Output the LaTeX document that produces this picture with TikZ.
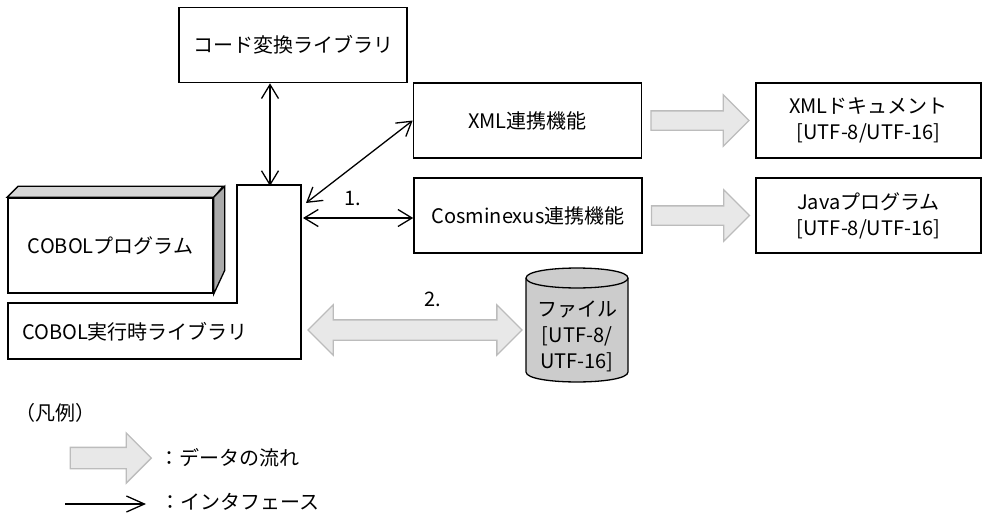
\documentclass[tikz,border=0pt]{standalone}
\usepackage{fontspec}
\setmainfont{Noto Sans CJK JP}
\definecolor{flowfill}{RGB}{232,232,232}
\definecolor{flowline}{RGB}{188,188,188}
\definecolor{cylgray}{RGB}{204,204,204}
\definecolor{topgray}{RGB}{214,214,214}
\definecolor{sidegray}{RGB}{170,170,170}
\usetikzlibrary{arrows.meta,positioning,shapes.arrows}

\begin{document}
\begin{tikzpicture}[x=1pt, y=-1pt,
      box/.style={draw, line width=1.6pt, fill=white,
                  minimum width=228pt, minimum height=75pt,
                  font=\fontsize{20}{26}\selectfont, align=center},
      lbl/.style={font=\fontsize{20}{26}\selectfont, align=center},
      iface/.style={{Straight Barb[length=14pt,width=17pt]}-{Straight Barb[length=14pt,width=17pt]},
                    line width=1.3pt},
      flow/.style={single arrow, draw=flowline, fill=flowfill, line width=1.3pt,
                   inner xsep=0pt, inner ysep=9pt, minimum width=50pt,
                   single arrow head extend=16pt, single arrow head indent=0pt},
      flow2/.style={double arrow, draw=flowline, fill=flowfill, line width=1.3pt,
                    inner xsep=0pt, inner ysep=9.5pt, minimum width=49pt,
                    double arrow head extend=15pt, double arrow head indent=0pt}
  ]
    \useasboundingbox (0,0) rectangle (987,514);

    % upper boxes
    \node[box] (conv) at (293,45) {コード変換ライブラリ};
    \node[box] (xml)  at (527.5,120.5) {XML連携機能};
    \node[box] (cosm) at (528,215.5) {Cosminexus連携機能};
    \node[box, minimum width=225pt] (xmldoc) at (868.5,120.5) {XMLドキュメント\\{}[UTF-8/UTF-16]};
    \node[box, minimum width=225pt] (java)   at (868.5,215.5) {Javaプログラム\\{}[UTF-8/UTF-16]};

    % COBOL program (block)
    \node[box, minimum width=205pt, minimum height=95pt] (prog) at (110.5,245.5) {COBOLプログラム};
    \draw[line width=1.3pt, fill=topgray] (prog.north west) -- ++(11,-11) -- ++(205,0) -- (prog.north east) -- cycle;
    \draw[line width=1.3pt, fill=sidegray] (prog.north east) -- ++(11,-11) -- ++(0,84) -- (prog.south east) -- cycle;

    % runtime library
    \draw[line width=1.6pt] (8,303) -- (237,303) -- (237,185) -- (301,185) -- (301,359) -- (8,359) -- cycle;
    \node[lbl] (rtlib) at (135,332) {COBOL実行時ライブラリ};
    \coordinate (rttop)  at (270,186);
    \coordinate (rtxml)  at (306,203);
    \coordinate (rtcosm) at (303,218);

    % file
    \draw[line width=1.3pt, fill=cylgray] (526,278) -- (526,372)
        .. controls (526,385.3) and (628,385.3) .. (628,372) -- (628,278)
        .. controls (628,264.7) and (526,264.7) .. (526,278) -- cycle;
    \draw[line width=1.3pt] (526,278) .. controls (526,291.3) and (628,291.3) .. (628,278);
    \node[lbl] (file) at (577,336) {ファイル\\{}[UTF-8/\\UTF-16]};

    % interfaces
    \draw[iface] (conv.south -| rttop) -- (rttop);
    \draw[iface] (rtxml) -- (xml.west);
    \draw[iface] (rtcosm) -- (cosm.west |- rtcosm);
    \node[lbl] (n1) at (353,198) {1.};

    % data flow
    \node[flow, minimum height=98pt, right=8pt of xml]  (f1) {};
    \node[flow, minimum height=98pt, right=8pt of cosm] (f2) {};
    \node[flow2, minimum height=214pt] (f3) at (415,330) {};
    \node[lbl] (n2) at (433,299) {2.};

    % legend
    \node[lbl, anchor=west] (leg) at (12,413) {（凡例）};
    \node[flow, minimum height=81pt, inner ysep=10pt, minimum width=49pt,
          single arrow head extend=14.5pt] (lgflow) at (105.5,458) {};
    \node[lbl, anchor=west] (lgflowt) at (156,458) {：データの流れ};
    \coordinate (lga) at (65,504);
    \coordinate (lgb) at (146,504);
    \draw[line width=1.3pt, -{Straight Barb[length=18pt,width=16pt]}] (lga) -- (lgb);
    \node[lbl, anchor=west, inner sep=0pt] (lgifacet) at (160,502) {：インタフェース};
  \end{tikzpicture}
\end{document}
